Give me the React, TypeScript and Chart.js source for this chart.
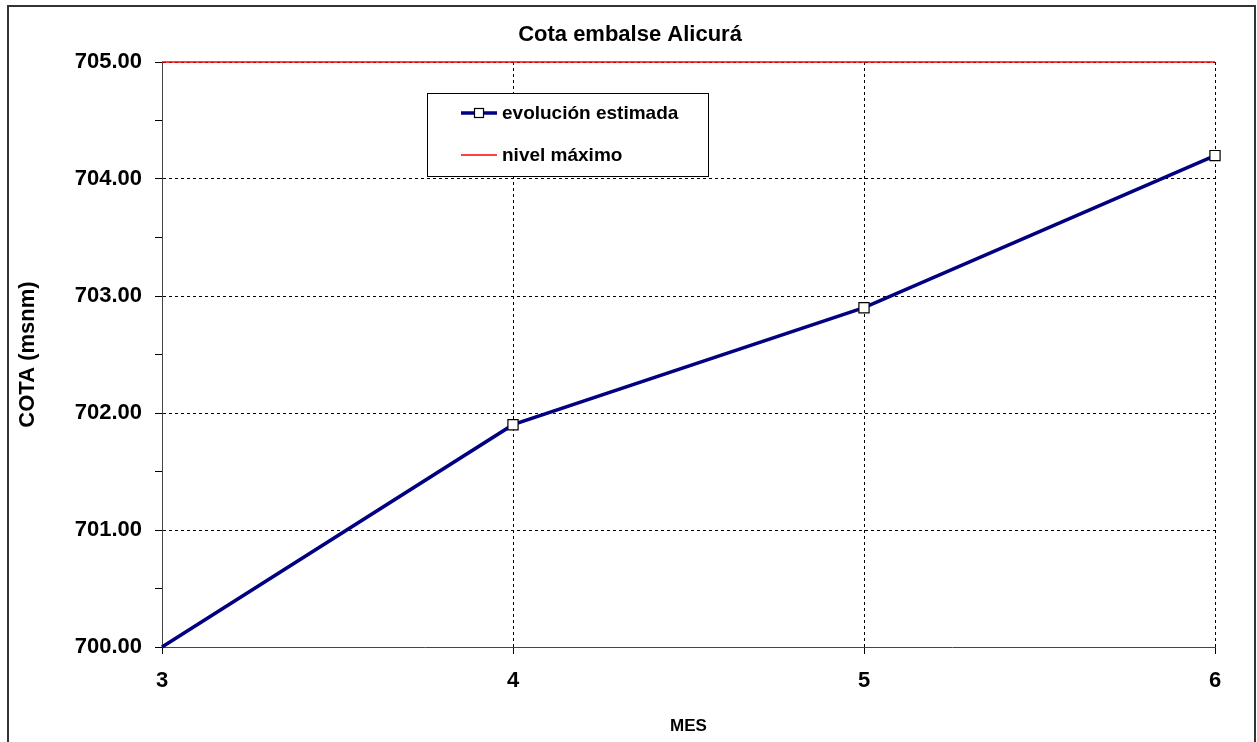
import React, { useEffect, useRef } from "react";
import { Chart, registerables } from "chart.js";

Chart.register(...registerables);

const months = [3, 4, 5, 6];
const estimatedLevel = [700.0, 701.9, 702.9, 704.2];
const maxLevel = 705.0;
const yMin = 700;
const yMax = 705;
const titleText = "Cota embalse Alicurá";
const yTitle = "COTA (msnm)";
const xTitle = "MES";
const legendLabels = ["evolución estimada", "nivel máximo"];

const FONT = "Arial, 'Liberation Sans', sans-serif";
const NAVY = "#000080";

const framePlugin = {
  id: "frame",
  beforeDraw(chart: any) {
    const ctx = chart.ctx;
    ctx.save();
    ctx.fillStyle = "#fff";
    ctx.fillRect(0, 0, chart.width, chart.height);
    ctx.strokeStyle = "#333";
    ctx.lineWidth = 2;
    ctx.strokeRect(8, 6, 1247, 800);
    ctx.fillStyle = "#000";
    ctx.font = "bold 22px " + FONT;
    ctx.textAlign = "center";
    ctx.textBaseline = "middle";
    ctx.fillText(titleText, 630, 35);
    ctx.restore();
  },
};

const legendPlugin = {
  id: "boxLegend",
  afterDraw(chart: any) {
    const ctx = chart.ctx;
    const x0 = 427, y0 = 93, w = 281, h = 83;
    ctx.save();
    ctx.fillStyle = "#fff";
    ctx.fillRect(x0, y0, w, h);
    ctx.strokeStyle = "#000";
    ctx.lineWidth = 1;
    ctx.strokeRect(x0 + 0.5, y0 + 0.5, w, h);
    const rows = [113, 155];
    ctx.strokeStyle = NAVY;
    ctx.lineWidth = 3.5;
    ctx.beginPath();
    ctx.moveTo(461, rows[0]);
    ctx.lineTo(497, rows[0]);
    ctx.stroke();
    ctx.fillStyle = "#fff";
    ctx.strokeStyle = "#000";
    ctx.lineWidth = 1.2;
    ctx.fillRect(474.5, rows[0] - 4.5, 9, 9);
    ctx.strokeRect(474.5, rows[0] - 4.5, 9, 9);
    ctx.strokeStyle = "#ff0000";
    ctx.lineWidth = 1.5;
    ctx.beginPath();
    ctx.moveTo(461, rows[1]);
    ctx.lineTo(497, rows[1]);
    ctx.stroke();
    ctx.fillStyle = "#000";
    ctx.font = "bold 19px " + FONT;
    ctx.textBaseline = "middle";
    ctx.textAlign = "left";
    ctx.fillText(legendLabels[0], 502, rows[0] + 1);
    ctx.fillText(legendLabels[1], 502, rows[1] + 1);
    ctx.restore();
  },
};

export default function App() {
  const ref = useRef<HTMLCanvasElement>(null);

  useEffect(() => {
    if (!ref.current) return;
    const chart = new Chart(ref.current, {
      type: "line",
      data: {
        datasets: [
          {
            label: legendLabels[1],
            data: [
              { x: months[0], y: maxLevel },
              { x: months[months.length - 1], y: maxLevel },
            ],
            borderColor: "#ff0000",
            borderWidth: 1.5,
            pointRadius: 0,
            clip: false as any,
            order: 2,
          },
          {
            label: legendLabels[0],
            data: months.map((m, i) => ({ x: m, y: estimatedLevel[i] })),
            borderColor: NAVY,
            borderWidth: 3.5,
            pointStyle: "rect",
            pointRadius: (c: any) => (c.dataIndex === 0 ? 0 : 7.2),
            pointBackgroundColor: "#fff",
            pointBorderColor: "#000",
            pointBorderWidth: 1.2,
            clip: false as any,
            order: 1,
          },
        ],
      },
      options: {
        responsive: false,
        animation: false,
        events: [],
        layout: { padding: { left: 0, right: 42, top: 62, bottom: 0 } },
        plugins: {
          legend: { display: false },
          tooltip: { enabled: false },
          title: { display: false, text: titleText },
        },
        scales: {
          x: {
            type: "linear",
            min: months[0],
            max: months[months.length - 1],
            afterFit: (s: any) => {
              s.height = 95;
            },
            ticks: {
              stepSize: 1,
              color: "#000",
              padding: 14,
              font: { family: FONT, size: 22, weight: "bold" },
              callback: (v: any) => String(v),
            },
            grid: {
              color: "#000",
              lineWidth: 1,
              tickLength: 7,
              tickColor: "#000",
            },
            border: { display: true, color: "#444", width: 1, dash: [3, 3] },
            title: {
              display: true,
              text: xTitle,
              color: "#000",
              font: { family: FONT, size: 17, weight: "bold" },
              padding: { top: 5, bottom: 5 },
            },
          },
          y: {
            type: "linear",
            min: yMin,
            max: yMax,
            afterFit: (s: any) => {
              s.width = 162;
            },
            ticks: {
              stepSize: 0.5,
              color: "#000",
              padding: 13,
              font: { family: FONT, size: 22, weight: "bold" },
              callback: (v: any) =>
                Math.abs(v - Math.round(v)) < 1e-6 ? Number(v).toFixed(2) : "",
            },
            grid: {
              color: (c: any) =>
                c.tick && Math.abs(c.tick.value - Math.round(c.tick.value)) < 1e-6
                  ? "#000"
                  : "rgba(0,0,0,0)",
              lineWidth: 1,
              tickLength: 7,
              tickColor: "#000",
            },
            border: { display: true, color: "#444", width: 1, dash: [3, 3] },
            title: {
              display: true,
              text: yTitle,
              color: "#000",
              font: { family: FONT, size: 22, weight: "bold" },
              padding: { top: 15, bottom: 0 },
            },
          },
        },
      },
      plugins: [framePlugin, legendPlugin],
    } as any);
    return () => chart.destroy();
  }, []);

  return (
    <div style={{ position: "fixed", left: 0, top: 0, width: 1257, height: 742, background: "#fff" }}>
      <canvas ref={ref} width={1257} height={742} style={{ display: "block" }} />
    </div>
  );
}
